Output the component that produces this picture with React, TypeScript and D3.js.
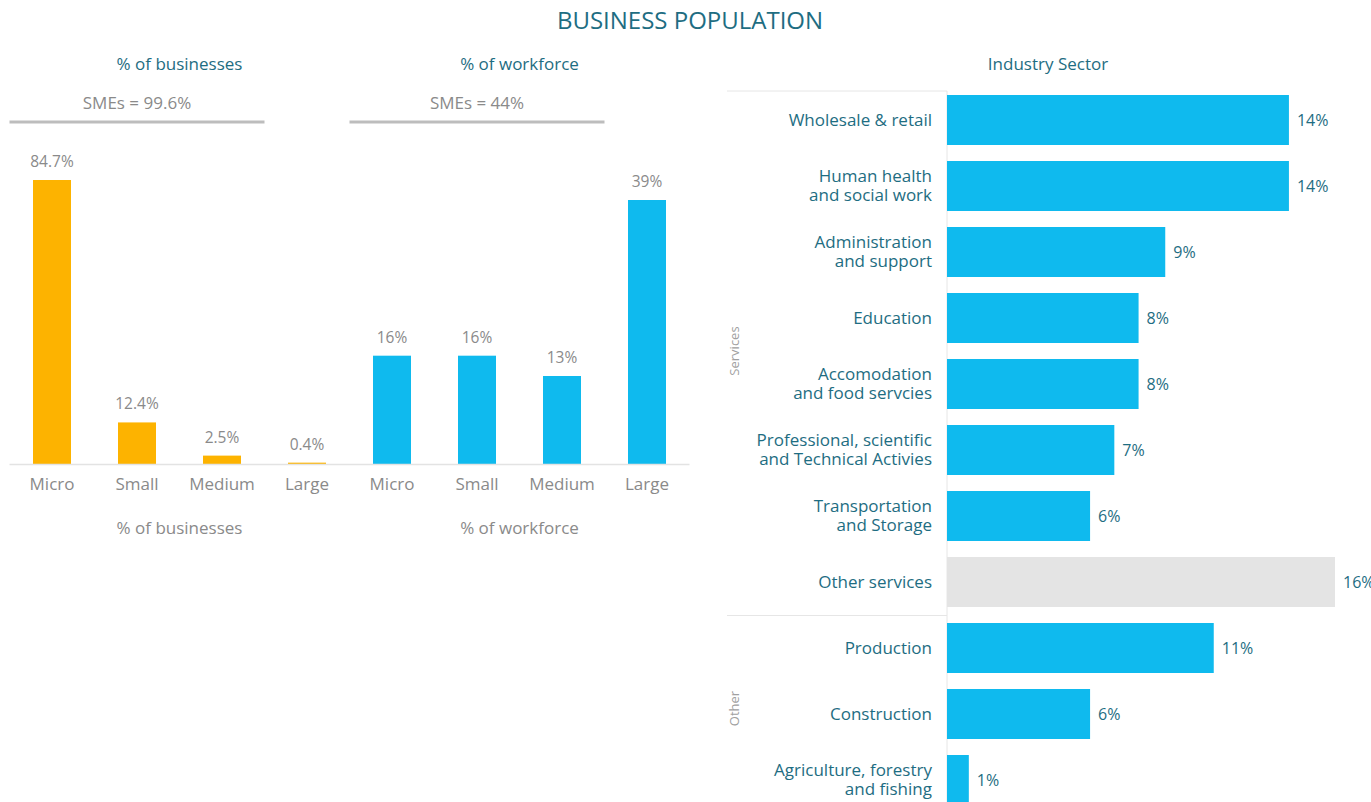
import React from "react";
import * as d3 from "d3";

const sizeCategories = ["Micro", "Small", "Medium", "Large"];
const businessShare = [84.7, 12.4, 2.5, 0.4];
const workforceShare = [16, 16, 13, 39];
const groupTitles = ["% of businesses", "% of workforce"];
const smeLabels = ["SMEs = 99.6%", "SMEs = 44%"];
const businessLabels = ["84.7%", "12.4%", "2.5%", "0.4%"];

const sectors = [
  ["Wholesale & retail"],
  ["Human health", "and social work"],
  ["Administration", "and support"],
  ["Education"],
  ["Accomodation", "and food servcies"],
  ["Professional, scientific", "and Technical Activies"],
  ["Transportation", "and Storage"],
  ["Other services"],
  ["Production"],
  ["Construction"],
  ["Agriculture, forestry", "and fishing"],
];
const sectorValues = [14.1, 14.1, 9.0, 7.9, 7.9, 6.9, 5.9, 16.0, 11.0, 5.9, 0.9];
const sectorGroups = ["Services", "Services", "Services", "Services", "Services", "Services", "Services", "Services", "Other", "Other", "Other"];
const groupNames = ["Services", "Other"];

const TEAL = "#1e6d82";
const GRAY = "#8a8a8a";
const YELLOW = "#FDB300";
const BLUE = "#0FBAEE";
const LIGHT = "#E4E4E4";
const FONT = "'Open Sans', 'Noto Sans', sans-serif";

export default function App() {
  const W = 1371, H = 802;
  const baseY = 464;
  const pad = 47 / 85;
  const x0 = d3.scaleBand<number>().domain(d3.range(8)).range([9.5, 689.5]).paddingInner(pad).paddingOuter(pad / 2);
  const yBiz = d3.scaleLinear().domain([0, 84.7]).range([baseY, 180]);
  const yWork = d3.scaleLinear().domain([0, 39]).range([baseY, 200]);
  const step = x0.step();
  const bw = x0.bandwidth();

  const groups = [
    { values: businessShare, scale: yBiz, color: YELLOW, labels: businessLabels, offset: 0 },
    { values: workforceShare, scale: yWork, color: BLUE, labels: workforceShare.map((v) => `${v}%`), offset: 4 },
  ];

  const barX0 = 947;
  const xs = d3.scaleLinear().domain([0, 16]).range([barX0, 1335]);
  const ys = d3.scaleBand<number>().domain(d3.range(sectors.length)).range([87, 87 + 66 * sectors.length]).paddingInner(16 / 66).paddingOuter(8 / 66);
  const rowTop = (i: number) => (ys(i) as number) - 8;
  const groupExtent = groupNames.map((g) => {
    const idx = sectorGroups.map((s, i) => (s === g ? i : -1)).filter((i) => i >= 0);
    const top = rowTop(idx[0]);
    const bottom = Math.min(H, rowTop(idx[idx.length - 1]) + 66);
    return { g, top, bottom };
  });

  return (
    <svg width={W} height={H} style={{ position: "absolute", left: 0, top: 0, fontFamily: FONT }}>
      <rect width={W} height={H} fill="#fff" />
      <text x={690} y={29} textAnchor="middle" fontSize={24} fill={TEAL}>BUSINESS POPULATION</text>

      {groups.map((gr, gi) => {
        const start = gr.offset;
        const left = 9.5 + start * step;
        const cx = left + 2 * step;
        return (
          <g key={gi}>
            <text x={cx} y={70} textAnchor="middle" fontSize={17} fill={TEAL}>{groupTitles[gi]}</text>
            <text x={left + 1.5 * step} y={109} textAnchor="middle" fontSize={17} fill={GRAY}>{smeLabels[gi]}</text>
            <line x1={left} x2={left + 3 * step} y1={122} y2={122} stroke="#bdbdbd" strokeWidth={3} />
            {gr.values.map((v, i) => {
              const xi = x0(start + i) as number;
              const top = gr.scale(v);
              return (
                <g key={i}>
                  <rect x={xi} y={top} width={bw} height={baseY - top} fill={gr.color} />
                  <text x={xi + bw / 2} y={top - 13} textAnchor="middle" fontSize={15.5} fill={GRAY}>{gr.labels[i]}</text>
                  <text x={xi + bw / 2} y={490} textAnchor="middle" fontSize={17} fill={GRAY}>{sizeCategories[i]}</text>
                </g>
              );
            })}
            <text x={cx} y={534} textAnchor="middle" fontSize={17} fill={GRAY}>{groupTitles[gi]}</text>
          </g>
        );
      })}
      <line x1={9.5} x2={689.5} y1={baseY + 0.5} y2={baseY + 0.5} stroke="#e3e3e3" strokeWidth={1.5} />

      <text x={1048} y={70} textAnchor="middle" fontSize={17} fill={TEAL}>Industry Sector</text>
      <line x1={727} x2={barX0} y1={91} y2={91} stroke="#e6e6e6" strokeWidth={1} />
      <line x1={barX0} x2={barX0} y1={91} y2={H} stroke="#e6e6e6" strokeWidth={1} />
      {groupExtent.slice(1).map((ge) => (
        <line key={ge.g} x1={727} x2={barX0} y1={ge.top + 0.5} y2={ge.top + 0.5} stroke="#e6e6e6" strokeWidth={1} />
      ))}
      {groupExtent.map((ge) => (
        <text key={ge.g} transform={`translate(739,${(ge.top + ge.bottom) / 2}) rotate(-90)`} textAnchor="middle" fontSize={13} fill="#a0a0a0">{ge.g}</text>
      ))}
      {sectors.map((lines, i) => {
        const y = ys(i) as number;
        const h = ys.bandwidth();
        const cy = y + h / 2;
        const v = sectorValues[i];
        const isOther = lines[0] === "Other services";
        return (
          <g key={i}>
            <rect x={barX0} y={y} width={xs(v) - barX0} height={h} fill={isOther ? LIGHT : BLUE} />
            <text x={932} y={cy} textAnchor="end" fontSize={17} fill={TEAL}>
              {lines.map((ln, li) => (
                <tspan key={li} x={932} y={cy + (li - (lines.length - 1) / 2) * 19} dy="0.35em">{ln}</tspan>
              ))}
            </text>
            <text x={xs(v) + 8} y={cy} dy="0.35em" fontSize={16} fill={TEAL}>{`${d3.format(".0f")(v)}%`}</text>
          </g>
        );
      })}
    </svg>
  );
}
